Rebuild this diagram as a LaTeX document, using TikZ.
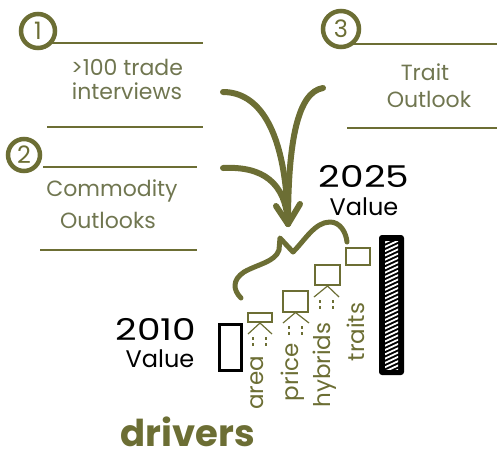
\documentclass[tikz,border=0pt]{standalone}
\usepackage{graphicx}
\usepackage{fontspec}
\setmainfont{Poppins}
\definecolor{oliv}{RGB}{108,110,52}
\definecolor{olivtext}{RGB}{112,118,80}
\begin{document}
\begin{tikzpicture}[x=1pt,y=-1pt,
  hand/.style={font=\fontsize{22}{24}\selectfont, text=olivtext, inner sep=0pt},
  rule/.style={draw=oliv, line width=2.4pt},
  numcirc/.style={circle, draw=oliv, line width=4.5pt, minimum size=34pt, inner sep=0pt, text=oliv, font=\fontsize{24}{24}\selectfont},
  flow/.style={draw=oliv, line width=6pt, line cap=round},
  smallbox/.style={draw=oliv, line width=2pt, inner sep=0pt},
  caret/.style={draw=oliv, line width=1.2pt},
  tickline/.style={draw=oliv, line width=1.2pt, dash pattern=on 3pt off 3pt},
  drv/.style={text=oliv, font=\fontsize{23}{23}\selectfont, rotate=90, inner sep=0pt},
  big/.style={text=black, font=\fontsize{30}{30}\selectfont, inner sep=0pt},
  valtxt/.style={text=black, font=\fontsize{24}{24}\selectfont, inner sep=0pt},
]
\useasboundingbox (0,0) rectangle (497,456);

% block 1
\node[numcirc] (c1) at (38,31) {1};
\coordinate (l1a) at (50,43); \coordinate (l1b) at (203,43);
\draw[rule] (l1a) -- (l1b);
\node[hand] (t1a) at (127,67) {>100 trade};
\node[hand] (t1b) at (127,91) {interviews};
\coordinate (l1c) at (47,127); \coordinate (l1d) at (203,127);
\draw[rule] (l1c) -- (l1d);

% block 2
\node[numcirc, minimum size=32pt] (c2) at (24,155) {2};
\coordinate (l2a) at (43,167); \coordinate (l2b) at (197,167);
\draw[rule] (l2a) -- (l2b);
\node[hand] (t2a) at (112,191) {Commodity};
\node[hand] (t2b) at (108,220) {Outlooks};
\coordinate (l2c) at (40,250); \coordinate (l2d) at (197,250);
\draw[rule] (l2c) -- (l2d);

% block 3
\node[numcirc, minimum size=36pt] (c3) at (341,29) {3};
\coordinate (l3a) at (350,44); \coordinate (l3b) at (497,44);
\draw[rule] (l3a) -- (l3b);
\node[hand] (t3a) at (425,72) {Trait};
\node[hand] (t3b) at (429,99) {Outlook};
\coordinate (l3c) at (347,128); \coordinate (l3d) at (497,128);
\draw[rule] (l3c) -- (l3d);

% converging arrows
\coordinate (s1) at (223,92);
\coordinate (s2) at (223,168);
\coordinate (s3) at (323,88);
\coordinate (tip) at (288,224);
\draw[flow] (s1) .. controls (258,92) and (286,128) .. (tip);
\draw[flow] (s3) .. controls (298,92) and (288,140) .. (tip);
\draw[flow] (s2) .. controls (262,166) and (286,182) .. (tip);
\draw[flow, line join=round] (tip) ++(-12,-18) -- (tip) -- ++(12,-20);

% wavy line
\draw[draw=oliv, line width=5pt, line cap=round, line join=round]
  (241,298) .. controls (233,290) and (232,280) .. (244,272)
  .. controls (258,264) and (275,262) .. (279,250) -- (280,238) -- (293,252)
  .. controls (305,240) and (315,222) .. (330,222)
  .. controls (340,222) and (346,232) .. (347,242);

% small boxes
\node[smallbox, minimum width=24pt, minimum height=9pt] (ab) at (260,317.5) {};
\node[smallbox, minimum width=25pt, minimum height=21pt] (pb) at (295.5,301) {};
\node[smallbox, minimum width=25pt, minimum height=20pt] (hb) at (327.5,275) {};
\node[smallbox, minimum width=24pt, minimum height=17pt] (tb) at (358,256) {};

% carets
\coordinate (aL) at (248,334); \coordinate (aR) at (272,334);
\draw[caret] (aL) -- (ab.south) -- (aR);
\coordinate (pL) at (283,323); \coordinate (pR) at (309,323);
\draw[caret] (pL) -- (pb.south) -- (pR);
\coordinate (hL) at (314,297); \coordinate (hR) at (339,297);
\draw[caret] (hL) -- (hb.south) -- (hR);
\coordinate (ad1) at (253,337); \coordinate (ad2) at (253,346);
\coordinate (ad3) at (266,337); \coordinate (ad4) at (266,346);
\draw[tickline] (ad1) -- (ad2); \draw[tickline] (ad3) -- (ad4);
\coordinate (pd1) at (289,326); \coordinate (pd2) at (289,335);
\coordinate (pd3) at (302,326); \coordinate (pd4) at (302,335);
\draw[tickline] (pd1) -- (pd2); \draw[tickline] (pd3) -- (pd4);
\coordinate (hd1) at (320,300); \coordinate (hd2) at (320,309);
\coordinate (hd3) at (333,300); \coordinate (hd4) at (333,309);
\draw[tickline] (hd1) -- (hd2); \draw[tickline] (hd3) -- (hd4);

% rotated labels
\node[drv] (la) at (257,383) {area};
\node[drv] (lp) at (293,372) {price};
\node[drv] (lh) at (325,365) {hybrids};
\node[drv] (lt) at (356,332) {traits};

% 2010
\node[big] (y2010) at (156,329) {\scalebox{1.25}[1]{2010}};
\node[valtxt] (v2010) at (160,359) {Value};
\node[draw=black, line width=3pt, minimum width=22pt, minimum height=46pt, inner sep=0pt] (bar10) at (230.5,347.5) {};

% 2025
\node[big] (y2025) at (364,176) {\scalebox{1.25}[1]{2025}};
\node[valtxt] (v2025) at (364,207) {Value};
\node[fill=black, rounded corners=3pt, minimum width=25pt, minimum height=140pt, inner sep=0pt] (bar25) at (391.5,305) {};
\begin{scope}
  \clip (385,241) rectangle (398,369);
  \foreach \i in {0,...,32} {
    \draw[white, line width=1.8pt] (384,{243+\i*4.3}) -- (399,{243+\i*4.3-7});
  }
\end{scope}

% drivers
\node[text=oliv, font=\fontsize{37}{37}\selectfont\bfseries, inner sep=0pt, text depth=0pt, anchor=base] (drv) at (188,446) {drivers};
\end{tikzpicture}
\end{document}
